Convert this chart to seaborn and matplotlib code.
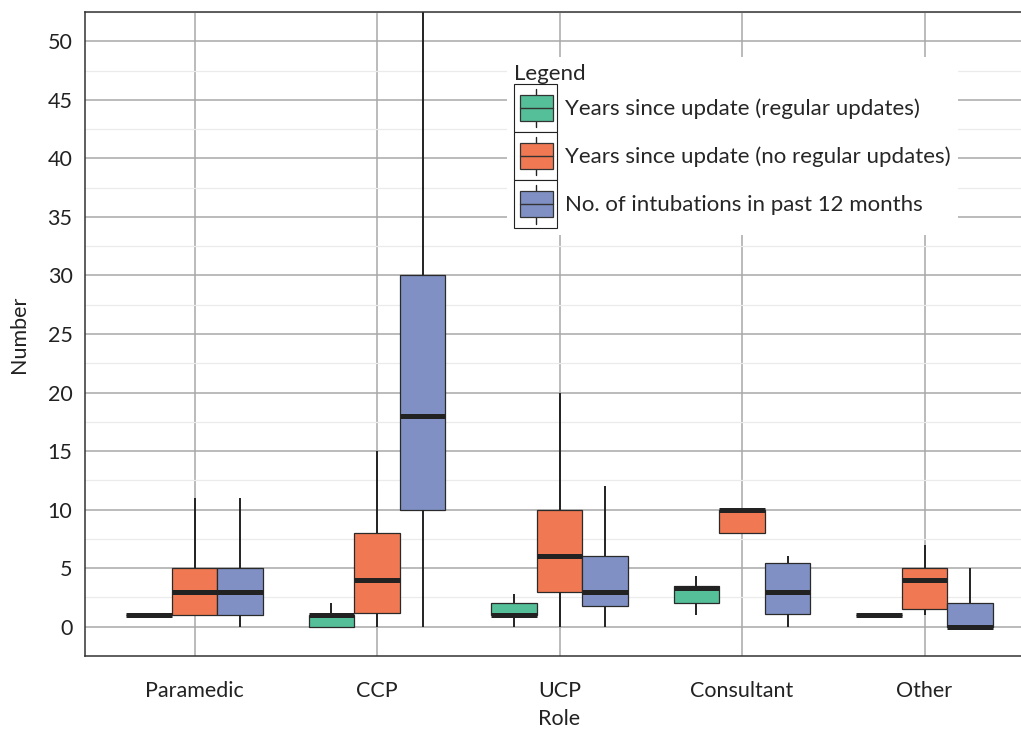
import numpy as np
import pandas as pd
import seaborn as sns
import matplotlib.pyplot as plt
from matplotlib.patches import Rectangle, Patch
from matplotlib.lines import Line2D
from matplotlib.legend_handler import HandlerBase

roles = ["Paramedic", "CCP", "UCP", "Consultant", "Other"]
measures = ["Years since update (regular updates)",
            "Years since update (no regular updates)",
            "No. of intubations in past 12 months"]
colors = ["#55bf99", "#f07852", "#8090c4"]

# five-number summaries, per role: min, q1, median, q3, max
regular_updates = [[1, 1, 1, 1, 1], [0, 0, 1, 1, 2], [0, 1, 1, 2, 2.8],
                   [1, 2, 3.3, 3.5, 4.3], [1, 1, 1, 1, 1]]
no_regular_updates = [[1, 1, 3, 5, 11], [0, 1.2, 4, 8, 15], [0, 3, 6, 10, 20],
                      [8, 8, 10, 10, 10], [1, 1.5, 4, 5, 7]]
intubations = [[0, 1, 3, 5, 11], [0, 10, 18, 30, 60], [0, 1.8, 3, 6, 12],
               [0, 1.1, 3, 5.4, 6], [0, 0, 0, 2, 5]]

yticks = [0, 5, 10, 15, 20, 25, 30, 35, 40, 45, 50]


def make_frame():
    '''
    long table: with five points per group the quartiles land exactly
    on the summary values
    '''
    rows = []
    for measure, summaries in zip(measures, [regular_updates, no_regular_updates, intubations]):
        for role, vals in zip(roles, summaries):
            for v in vals:
                rows.append({"Role": role, "Measure": measure, "Number": v})
    return pd.DataFrame(rows)


class BoxKey(HandlerBase):
    '''
    draws a little boxplot glyph inside a framed key, ggplot style
    '''
    def create_artists(self, legend, orig_handle, xdescent, ydescent,
                       width, height, fontsize, trans):
        x0, y0 = -xdescent, -ydescent
        frame = Rectangle((x0, y0), width, height, facecolor="white",
                          edgecolor="#222222", lw=0.8, transform=trans)
        bx = x0 + width * 0.13
        bw = width * 0.76
        by = y0 + height * 0.23
        bh = height * 0.54
        box = Rectangle((bx, by), bw, bh, facecolor=orig_handle.get_facecolor(),
                        edgecolor="#333333", lw=0.9, transform=trans)
        xm = x0 + width / 2
        med = Line2D([bx, bx + bw], [y0 + height / 2] * 2, color="#333333", lw=1.0, transform=trans)
        w1 = Line2D([xm, xm], [y0 + height * 0.1, by], color="#222222", lw=1.0, transform=trans)
        w2 = Line2D([xm, xm], [by + bh, y0 + height * 0.9], color="#222222", lw=1.0, transform=trans)
        return [frame, w1, w2, box, med]


df = make_frame()

sns.set_theme(style="whitegrid")
plt.rcParams['font.family'] = ['Lato', 'DejaVu Sans']

fig = plt.figure(figsize=(10.21, 7.31), dpi=100)
ax = fig.add_axes([85 / 1021, (731 - 656) / 731, (1034 - 85) / 1021, (656 - 12) / 731])

sns.boxplot(data=df, x="Role", y="Number", hue="Measure", order=roles,
            hue_order=measures, palette=colors, width=0.75, gap=0,
            whis=(0, 100), saturation=1, linecolor="#2a2a2a", linewidth=0.9,
            showcaps=False, fliersize=0, legend=False,
            medianprops=dict(color="#222222", linewidth=3.6),
            whiskerprops=dict(color="#222222", linewidth=1.4), ax=ax)

ax.set_xlim(-0.6, 4.6)
ax.set_ylim(-2.5, 52.5)
ax.set_yticks(yticks)
ax.set_yticks(np.arange(2.5, 53, 5), minor=True)

ax.set_axisbelow(True)
ax.grid(which="major", axis="both", color="#a8a8a8", lw=1.1)
ax.grid(which="minor", axis="y", color="#ebebeb", lw=0.9)

for side in ["left", "bottom", "top", "right"]:
    ax.spines[side].set_color("#333333")
    ax.spines[side].set_linewidth(1.1)
    ax.spines[side].set_visible(True)

ax.tick_params(axis="both", which="major", length=5, width=1, color="#333333",
               labelsize=15.5, labelcolor="#222222", pad=4)
ax.tick_params(axis="y", which="minor", length=0)
ax.tick_params(axis="x", pad=13)

ax.set_xlabel("Role", fontsize=15.5, color="#222222", labelpad=6)
ax.set_ylabel("Number", fontsize=15.5, color="#222222", labelpad=13)

handles = [Patch(facecolor=c) for c in colors]
leg = ax.legend(handles=handles, labels=measures, title="Legend",
                loc="upper left", bbox_to_anchor=(0.4447, 0.930),
                borderaxespad=0, handler_map={Patch: BoxKey()},
                frameon=True, fancybox=False,
                edgecolor="white", facecolor="white", framealpha=1,
                handlelength=1.95, handleheight=2.95, labelspacing=0,
                handletextpad=0.36, borderpad=0.32, fontsize=16,
                title_fontsize=16, alignment="left")
leg.get_frame().set_linewidth(0)

plt.savefig("out.png", dpi=100)
